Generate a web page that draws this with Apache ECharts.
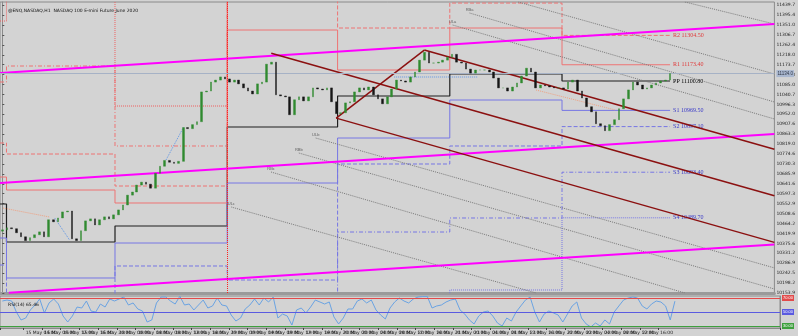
<!DOCTYPE html>
<html><head><meta charset="utf-8">
<script src="https://cdn.jsdelivr.net/npm/echarts@6/dist/echarts.min.js"></script>
<style>html,body{margin:0;padding:0;background:#d3d3d3;}#c{width:798px;height:336px;}</style>
</head><body><div id="c"></div>
<script>
// ---------- data ----------
const dayDates = ['14 May','15 May','18 May','19 May','20 May','21 May','22 May'];
const firstOpen = 10430;
const closes = [
10436,10445,10441,10423,10405,10388,10401,10414,10427,10405,
10481,10472,10489,10516,10520,10396,10388,10432,10476,10485,
10458,10481,10494,10485,10503,10525,10547,10591,10605,10636,
10649,10640,10622,10689,10720,10746,10738,10733,10742,10893,
10888,10906,10919,11052,11056,11096,11105,11119,11110,11096,
11105,11088,11070,11056,11043,11088,11096,11176,11185,11039,
11034,11030,10950,11017,11030,11012,11030,11070,11065,11061,
11070,11008,10955,10959,11003,11008,11052,11070,11061,11074,
11039,11021,10999,11030,11065,11105,11101,11096,11119,11141,
11194,11229,11181,11181,11185,11194,11207,11220,11185,11181,
11154,11136,11150,11150,11150,11141,11114,11070,11070,11056,
11074,11092,11123,11158,11141,11070,11083,11079,11074,11070,
11070,11065,11096,11105,11056,11025,10986,10963,10910,10901,
10879,10906,10928,10977,11021,11061,11096,11083,11065,11070,
11083,11092,11101,11105,11134];
const wickUp = [
8,12,6,10,5,9,14,7,11,6, 15,9,12,18,8,6,10,14,9,7, 11,8,13,6,10,12,9,15,7,11,
8,14,6,10,12,7,16,9,11,13, 8,12,10,6,14,15,9,11,7,10, 13,8,9,12,6,11,14,8,40,9,
12,7,10,14,8,11,6,13,9,12, 10,8,14,7,11,9,13,6,10,12, 8,11,15,7,10,9,12,8,14,11,
6,10,13,9,8,12,7,11,14,9, 10,8,12,6,11,14,9,7,13,10, 8,12,9,23,10,7,14,11,8,12,
9,13,7,10,12,8,11,9,14,6, 10,12,8,11,9,13,7,10,12,8, 11,9,13,7,10];
const wickDn = [
10,7,12,8,14,8,9,11,6,13, 8,12,7,10,15,9,6,11,8,12, 9,13,7,10,8,14,6,11,9,12,
10,7,13,8,11,9,12,6,10,14, 9,11,8,13,7,10,12,9,14,8, 11,7,10,13,9,8,12,10,7,11,
9,12,9,8,13,10,7,11,12,8, 10,14,20,9,12,7,11,8,13,10, 9,12,8,11,7,13,10,9,12,8,
11,7,10,13,9,8,12,10,7,11, 9,12,8,11,14,10,7,13,9,12, 8,11,10,7,13,9,12,8,11,10,
12,9,7,11,10,13,8,12,9,11, 9,10,12,8,11,7,13,9,10,12, 8,11,9,10,7];
const rsiValues = [
65.7,67.1,65.7,50,38.6,41.4,52.9,60,68.6,48.6,
62.9,68.6,61.4,44.3,35.7,44.3,57.1,55.7,65.7,51.4,
50,61.4,57.1,68.6,65.7,68.6,71.4,60,62.9,54.3,
51.4,35.7,38.6,62.9,71.4,71.4,65.7,61.4,72.5,60,
61.4,52.9,60,67.1,55.7,58.6,70,60,58.6,45.7,
37.1,41.4,54.3,60,68.6,60,70,64.3,71.4,41.4,
47.1,44.3,31.4,52.9,55.7,48.6,57.1,67.1,64.3,61.4,
64.3,42.9,32.9,41.4,54.3,54.3,65.7,68.6,62.9,67.1,
52.9,45.7,40,55.7,64.3,70,65.7,62.9,68.6,71.4,
72,72,55.7,58.6,60,64.3,67.1,68.6,52.9,47.1,
38.6,32.9,44.3,50,51.4,44.3,34.3,30,41.4,37.1,
50,58.6,67.1,71.4,50,35.7,47.1,51.4,48.6,45.7,
35.7,47.1,58.6,64.3,41.4,32.9,28.6,34.3,30,38.6,
32.9,50,58.6,67.1,70,71.4,70,58.6,54.3,61.4,
65.7,64.3,58.6,38.6,65.5];
const bidPrice = 11134;
const rsiLevels = [70, 50, 30];

// daily pivot levels (one value per day, days start at these bar positions)
const dayStarts = [-0.5, 0.9, 24.3, 48.5, 72.3, 96.5, 120.7];
const levelEnd = 144;
const PP = [10551.4, 10381.7, 10453.1, 10895.3, 11033.8, 11132.1, 11100.8];
const R1 = [10672.0, 10613.9, 10555.9, 11328.6, 11149.9, 11337.5, 11173.4];
const R2 = [10823.9, 10774.7, 10631.8, 11578.7, 11337.5, 11449.0, 11304.5];
const R3 = [11096.3, 11167.8, 10810.5, 12262.1, 11641.3, 11775.3, 11508.2];
const R4 = [11368.8, 11560.9, 10989.1, 12945.5, 11945.0, 12096.9, 11711.9];
const S1 = [10399.5, 10220.9, 10377.2, 10645.2, 10846.2, 11015.9, 10969.5];
const S2 = [10278.9, 9988.6, 10274.5, 10211.9, 10730.1, 10810.5, 10897.1];
const S3 = [10006.5, 9595.6, 10095.8, 9528.5, 10426.3, 10488.9, 10693.4];
const S4 = [9734.0, 9202.4, 9917.1, 8845.1, 10122.6, 10167.3, 10489.7];

// trend lines: [barPosition, price] end points
const pinkLines = [
  [[-0.5, 11136.5], [166.5, 11355.4]],
  [[-0.5, 10645.2], [166.5, 10864.1]],
  [[1.4, 10155.0], [166.5, 10370.0]]
];
const pitchforkPoints = [[58, 11225], [72, 10935], [91, 11239]];
const grayLines = [
  [[147.2, 11453.7], [166.5, 11355.4]],
  [[111.25, 11453.7], [166.5, 11132.1]],
  [[100.76, 11404.5], [166.5, 11007.0]],
  [[97.12, 11350.9], [166.5, 10931.1]],
  [[67.58, 10846.2], [166.5, 10265.9]],
  [[63.94, 10779.2], [166.5, 10171.7]],
  [[57.95, 10694.3], [147.2, 10154.0]],
  [[49.38, 10537.9], [115.1, 10154.0]]
];
const grayLineNames = ['', '', 'RBa', 'ULa', 'ULb', 'RBb', 'RBc', 'ULc'];
const salmonDotted = [
  [[0.14, 10533.5], [10.2, 10493.3]],
  [[115.1, 11060.6], [132.2, 10971.3]]
];
const blueDotted = [
  [[11.3, 10488.9], [14.5, 10390.6]],
  [[35.3, 10747.9], [39.1, 10895.3]],
  [[84.5, 11118.7], [102.5, 11118.7]]
];
const markerVertical = 48.5;

// ---------- build ----------
const nSlots = 167;
const times = [];
for (let i = 0; i < nSlots; i++) {
  if (i === 0) times.push('14 May 2020');
  else if (i < closes.length) {
    const d = dayDates[Math.floor((i - 1) / 24) + 1];
    const h = (i - 1) % 24;
    times.push(d + ' ' + String(h).padStart(2, '0') + ':00');
  } else times.push('');
}
const bodies = [], wicks = [];
closes.forEach((c, j) => {
  const o = j === 0 ? firstOpen : closes[j - 1];
  const hi = Math.max(o, c) + wickUp[j];
  const lo = Math.min(o, c) - wickDn[j];
  bodies.push([o, c, Math.min(o, c), Math.max(o, c)]);
  wicks.push([lo, hi, lo, hi]);
});

const labelInterval = (i) => i === 0 || (i > 1 && i % 4 === 1 && i < closes.length);

const series = [];
const DASHDOT = [4, 2, 1, 2];
const levelDefs = [
  {name: 'PP', vals: PP, color: '#1e1e1e', type: 'solid', lbl: '#000000', w: 1.2},
  {name: 'R1', vals: R1, color: '#ee7373', type: 'solid', lbl: '#e03a3a'},
  {name: 'R2', vals: R2, color: '#ee7373', type: 'dashed', lbl: '#e03a3a'},
  {name: 'R3', vals: R3, color: '#ee7373', type: DASHDOT, lbl: null},
  {name: 'R4', vals: R4, color: '#ee6060', type: 'dotted', lbl: null},
  {name: 'S1', vals: S1, color: '#7676e4', type: 'solid', lbl: '#3a3ac8'},
  {name: 'S2', vals: S2, color: '#7676e4', type: 'dashed', lbl: '#3a3ac8'},
  {name: 'S3', vals: S3, color: '#7676e4', type: DASHDOT, lbl: '#3a3ac8'},
  {name: 'S4', vals: S4, color: '#7676e4', type: 'dotted', lbl: '#3a3ac8'}
];
levelDefs.forEach(L => {
  const data = dayStarts.map((u, k) => [u, L.vals[k]]);
  data.push([levelEnd, L.vals[L.vals.length - 1]]);
  series.push({
    type: 'line', name: L.name, xAxisIndex: 1, yAxisIndex: 0, step: 'end',
    data, symbol: 'none', z: 2,
    lineStyle: {color: L.color, width: L.w || 1, type: L.type},
    endLabel: L.lbl ? {
      show: true, distance: 3, color: L.lbl, fontSize: 6,
      fontFamily: 'Liberation Serif',
      formatter: (p) => L.name + ' ' + p.value[1].toFixed(2)
    } : {show: false}
  });
});

pinkLines.forEach(d => series.push({
  type: 'line', xAxisIndex: 1, yAxisIndex: 0, data: d, symbol: 'none', z: 4,
  lineStyle: {color: '#ff00ff', width: 2}
}));

// Andrews pitchfork from its three anchors
(function () {
  const [p1, p2, p3] = pitchforkPoints;
  const mx = (p2[0] + p3[0]) / 2, my = (p2[1] + p3[1]) / 2;
  const slope = (my - p1[1]) / (mx - p1[0]);
  const xe = nSlots - 0.5;
  const lines = [
    [p1, [xe, p1[1] + slope * (xe - p1[0])]],
    [p2, [xe, p2[1] + slope * (xe - p2[0])]],
    [p3, [xe, p3[1] + slope * (xe - p3[0])]],
    [p2, p3]
  ];
  lines.forEach(d => series.push({
    type: 'line', xAxisIndex: 1, yAxisIndex: 0, data: d, symbol: 'none', z: 4,
    lineStyle: {color: '#8b1010', width: 1.5}
  }));
})();

grayLines.forEach(d => series.push({
  type: 'line', xAxisIndex: 1, yAxisIndex: 0, data: d, symbol: 'none', z: 3,
  lineStyle: {color: '#7a7a7a', width: 1, type: 'dotted'}
}));
series.push({
  type: 'scatter', xAxisIndex: 1, yAxisIndex: 0, symbolSize: 1, z: 5,
  itemStyle: {color: 'rgba(0,0,0,0)'},
  data: grayLines.map((d, k) => [d[0][0], d[0][1], grayLineNames[k]]).filter(d => d[2]),
  label: {show: true, position: 'top', distance: 1, fontSize: 4, color: '#444',
    formatter: p => p.value[2]}
});
salmonDotted.forEach(d => series.push({
  type: 'line', xAxisIndex: 1, yAxisIndex: 0, data: d, symbol: 'none', z: 3,
  lineStyle: {color: '#f0a080', width: 1, type: 'dotted'}
}));
blueDotted.forEach(d => series.push({
  type: 'line', xAxisIndex: 1, yAxisIndex: 0, data: d, symbol: 'none', z: 3,
  lineStyle: {color: '#5f96e6', width: 1, type: 'dotted'}
}));
// red dotted vertical marker
series.push({
  type: 'line', xAxisIndex: 1, yAxisIndex: 0, data: [], symbol: 'none',
  markLine: {silent: true, symbol: 'none', label: {show: false},
    lineStyle: {color: '#ff2020', width: 1, type: 'dotted'},
    data: [{xAxis: markerVertical}]}
});

// candles
series.push({
  type: 'candlestick', xAxisIndex: 0, yAxisIndex: 0, data: wicks, barWidth: 1, z: 6,
  itemStyle: {color: '#7c7c7c', color0: '#7c7c7c', borderColor: '#7c7c7c', borderColor0: '#7c7c7c', borderWidth: 0}
});
series.push({
  type: 'candlestick', xAxisIndex: 0, yAxisIndex: 0, data: bodies, barWidth: 2.2, z: 7,
  itemStyle: {color: '#2f8a2f', color0: '#151515', borderColor: '#2f8a2f', borderColor0: '#151515', borderWidth: 0.4},
  markLine: {silent: true, symbol: 'none',
    lineStyle: {color: '#a6b2c6', width: 1, type: 'solid'},
    label: {show: true, position: 'end', distance: 2, fontSize: 4.5, color: '#303848',
      backgroundColor: '#a9b7cf', padding: [1, 1], formatter: p => p.value.toFixed(1)},
    data: [{yAxis: bidPrice}]}
});

// RSI
const rsiColors = ['#e24a4a', '#5a5ae0', '#3ea03e'];
series.push({
  type: 'line', xAxisIndex: 2, yAxisIndex: 1, data: rsiValues, symbol: 'none', z: 3,
  lineStyle: {color: '#6aa3e2', width: 1},
  markLine: {silent: true, symbol: 'none',
    data: rsiLevels.map((v, k) => ({yAxis: v,
      lineStyle: {color: rsiColors[k], width: 1, type: 'solid'},
      label: {show: true, position: 'end', distance: 2, fontSize: 4, color: '#fff',
        backgroundColor: rsiColors[k], padding: [1, 1], formatter: v.toFixed(2)}}))}
});

const chart = echarts.init(document.getElementById('c'), null, {renderer: 'canvas'});
chart.setOption({
  animation: false,
  backgroundColor: '#d3d3d3',
  title: [
    {text: '@ENQ,NASDAQ,H1  NASDAQ 100 E-mini Future June 2020', left: 3, top: 3,
      textStyle: {fontSize: 4.5, fontWeight: 'normal', color: '#111', fontFamily: 'DejaVu Sans'}},
    {text: 'RSI(14) 65.46', left: 3, top: 297,
      textStyle: {fontSize: 4.5, fontWeight: 'normal', color: '#111', fontFamily: 'DejaVu Sans'}}
  ],
  grid: [
    {left: 0, right: 18, top: 2, height: 291, show: true, borderColor: '#8a8a8a', borderWidth: 1, backgroundColor: '#d3d3d3'},
    {left: 0, right: 18, top: 296, height: 32, show: true, borderColor: '#8a8a8a', borderWidth: 1, backgroundColor: '#d3d3d3'}
  ],
  xAxis: [
    {type: 'category', gridIndex: 0, data: times, boundaryGap: true,
      axisLabel: {show: false}, axisTick: {show: false},
      axisLine: {show: true, lineStyle: {color: '#9a9a9a', width: 3}}},
    {type: 'value', gridIndex: 0, min: -0.5, max: nSlots - 0.5, show: false},
    {type: 'category', gridIndex: 1, data: times, boundaryGap: true,
      axisLine: {show: true, lineStyle: {color: '#8a8a8a'}},
      axisTick: {show: true, interval: labelInterval, length: 2, lineStyle: {color: '#444'}},
      axisLabel: {show: true, interval: labelInterval, fontSize: 4.5, color: '#222', margin: 2, align: 'left',
        fontFamily: 'DejaVu Sans'}}
  ],
  yAxis: [
    {type: 'value', gridIndex: 0, position: 'right', min: 10153.86, max: 11453.7, interval: 44.34,
      splitLine: {show: false},
      axisLine: {show: true, lineStyle: {color: '#8a8a8a'}},
      axisTick: {show: true, length: 2, lineStyle: {color: '#555'}},
      axisLabel: {fontSize: 4.5, color: '#222', margin: 2, formatter: v => v.toFixed(1), fontFamily: 'DejaVu Sans'}},
    {type: 'value', gridIndex: 1, position: 'right', min: 27.14, max: 72.86,
      splitLine: {show: false}, axisLabel: {show: false}, axisTick: {show: false},
      axisLine: {show: true, lineStyle: {color: '#8a8a8a'}}}
  ],
  series
});
</script></body></html>
